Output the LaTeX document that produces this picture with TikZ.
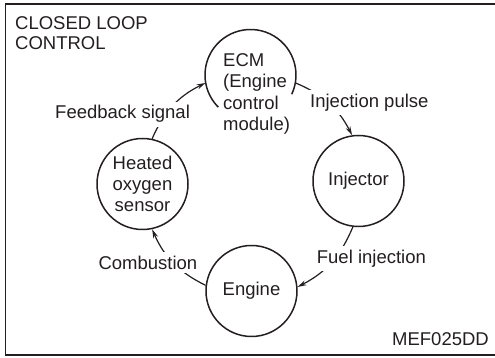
\documentclass[tikz,border=0pt]{standalone}
\usepackage{fontspec}
\setmainfont{Liberation Sans}
\usetikzlibrary{arrows.meta}
\definecolor{ink}{HTML}{231F20}
\begin{document}
\begin{tikzpicture}[x=1pt,y=1pt,
  every node/.style={text=ink, font=\fontsize{18.5}{21.3}\selectfont},
  ring/.style={draw=ink, line width=1.5pt},
  hub/.style={circle, minimum size=91pt, inner sep=0pt},
  conn/.style={draw=ink, line width=1.2pt, -{Stealth[length=9pt,width=5pt]}},
  lab/.style={fill=white, inner sep=4pt, anchor=base west},
]
\useasboundingbox (0,0) rectangle (495,358);
\draw[ink, line width=1.4pt] (5.5,3) rectangle (500,354);
% nodes
\node[hub, ring] (inj) at (358.5,177) {Injector};
\node[hub, ring] (eng) at (251.5,67) {Engine};
\node[hub, ring, align=center, font=\fontsize{18.5}{21}\selectfont] (hos) at (142.5,174) {Heated\\oxygen\\sensor};
\node[hub] (ecm) at (250.5,283) {};
\draw[ring] ([shift={(-25:45.5)}]ecm.center) arc[start angle=-25,end angle=225,radius=45.5];
\node[anchor=north west, align=left, inner sep=0pt] (ecmtxt) at (223,304.5) {ECM\\(Engine\\control\\module)};
% connectors
\draw[conn] (ecm.-10) to[bend left=20] (inj.98);
\draw[conn] (inj.263) to[bend left=20] (eng.5);
\draw[conn] (eng.173) to[bend left=20] (hos.-78);
\draw[conn] (hos.78) to[bend left=20] (ecm.190);
% labels
\node[lab] (lfb) at (51,239) {Feedback signal};
\node[lab] (lip) at (306,250.7) {Injection pulse};
\node[lab] (lfi) at (312.7,94.7) {Fuel injection};
\node[lab] (lcb) at (94.3,88.7) {Combustion};
% title and code
\node[anchor=north west, align=left, inner sep=0pt, font=\fontsize{18.5}{20}\selectfont] (title) at (15,341.3) {CLOSED LOOP\\CONTROL};
\node[anchor=base east, inner sep=0pt] (code) at (489,12) {MEF025DD};
\end{tikzpicture}
\end{document}
